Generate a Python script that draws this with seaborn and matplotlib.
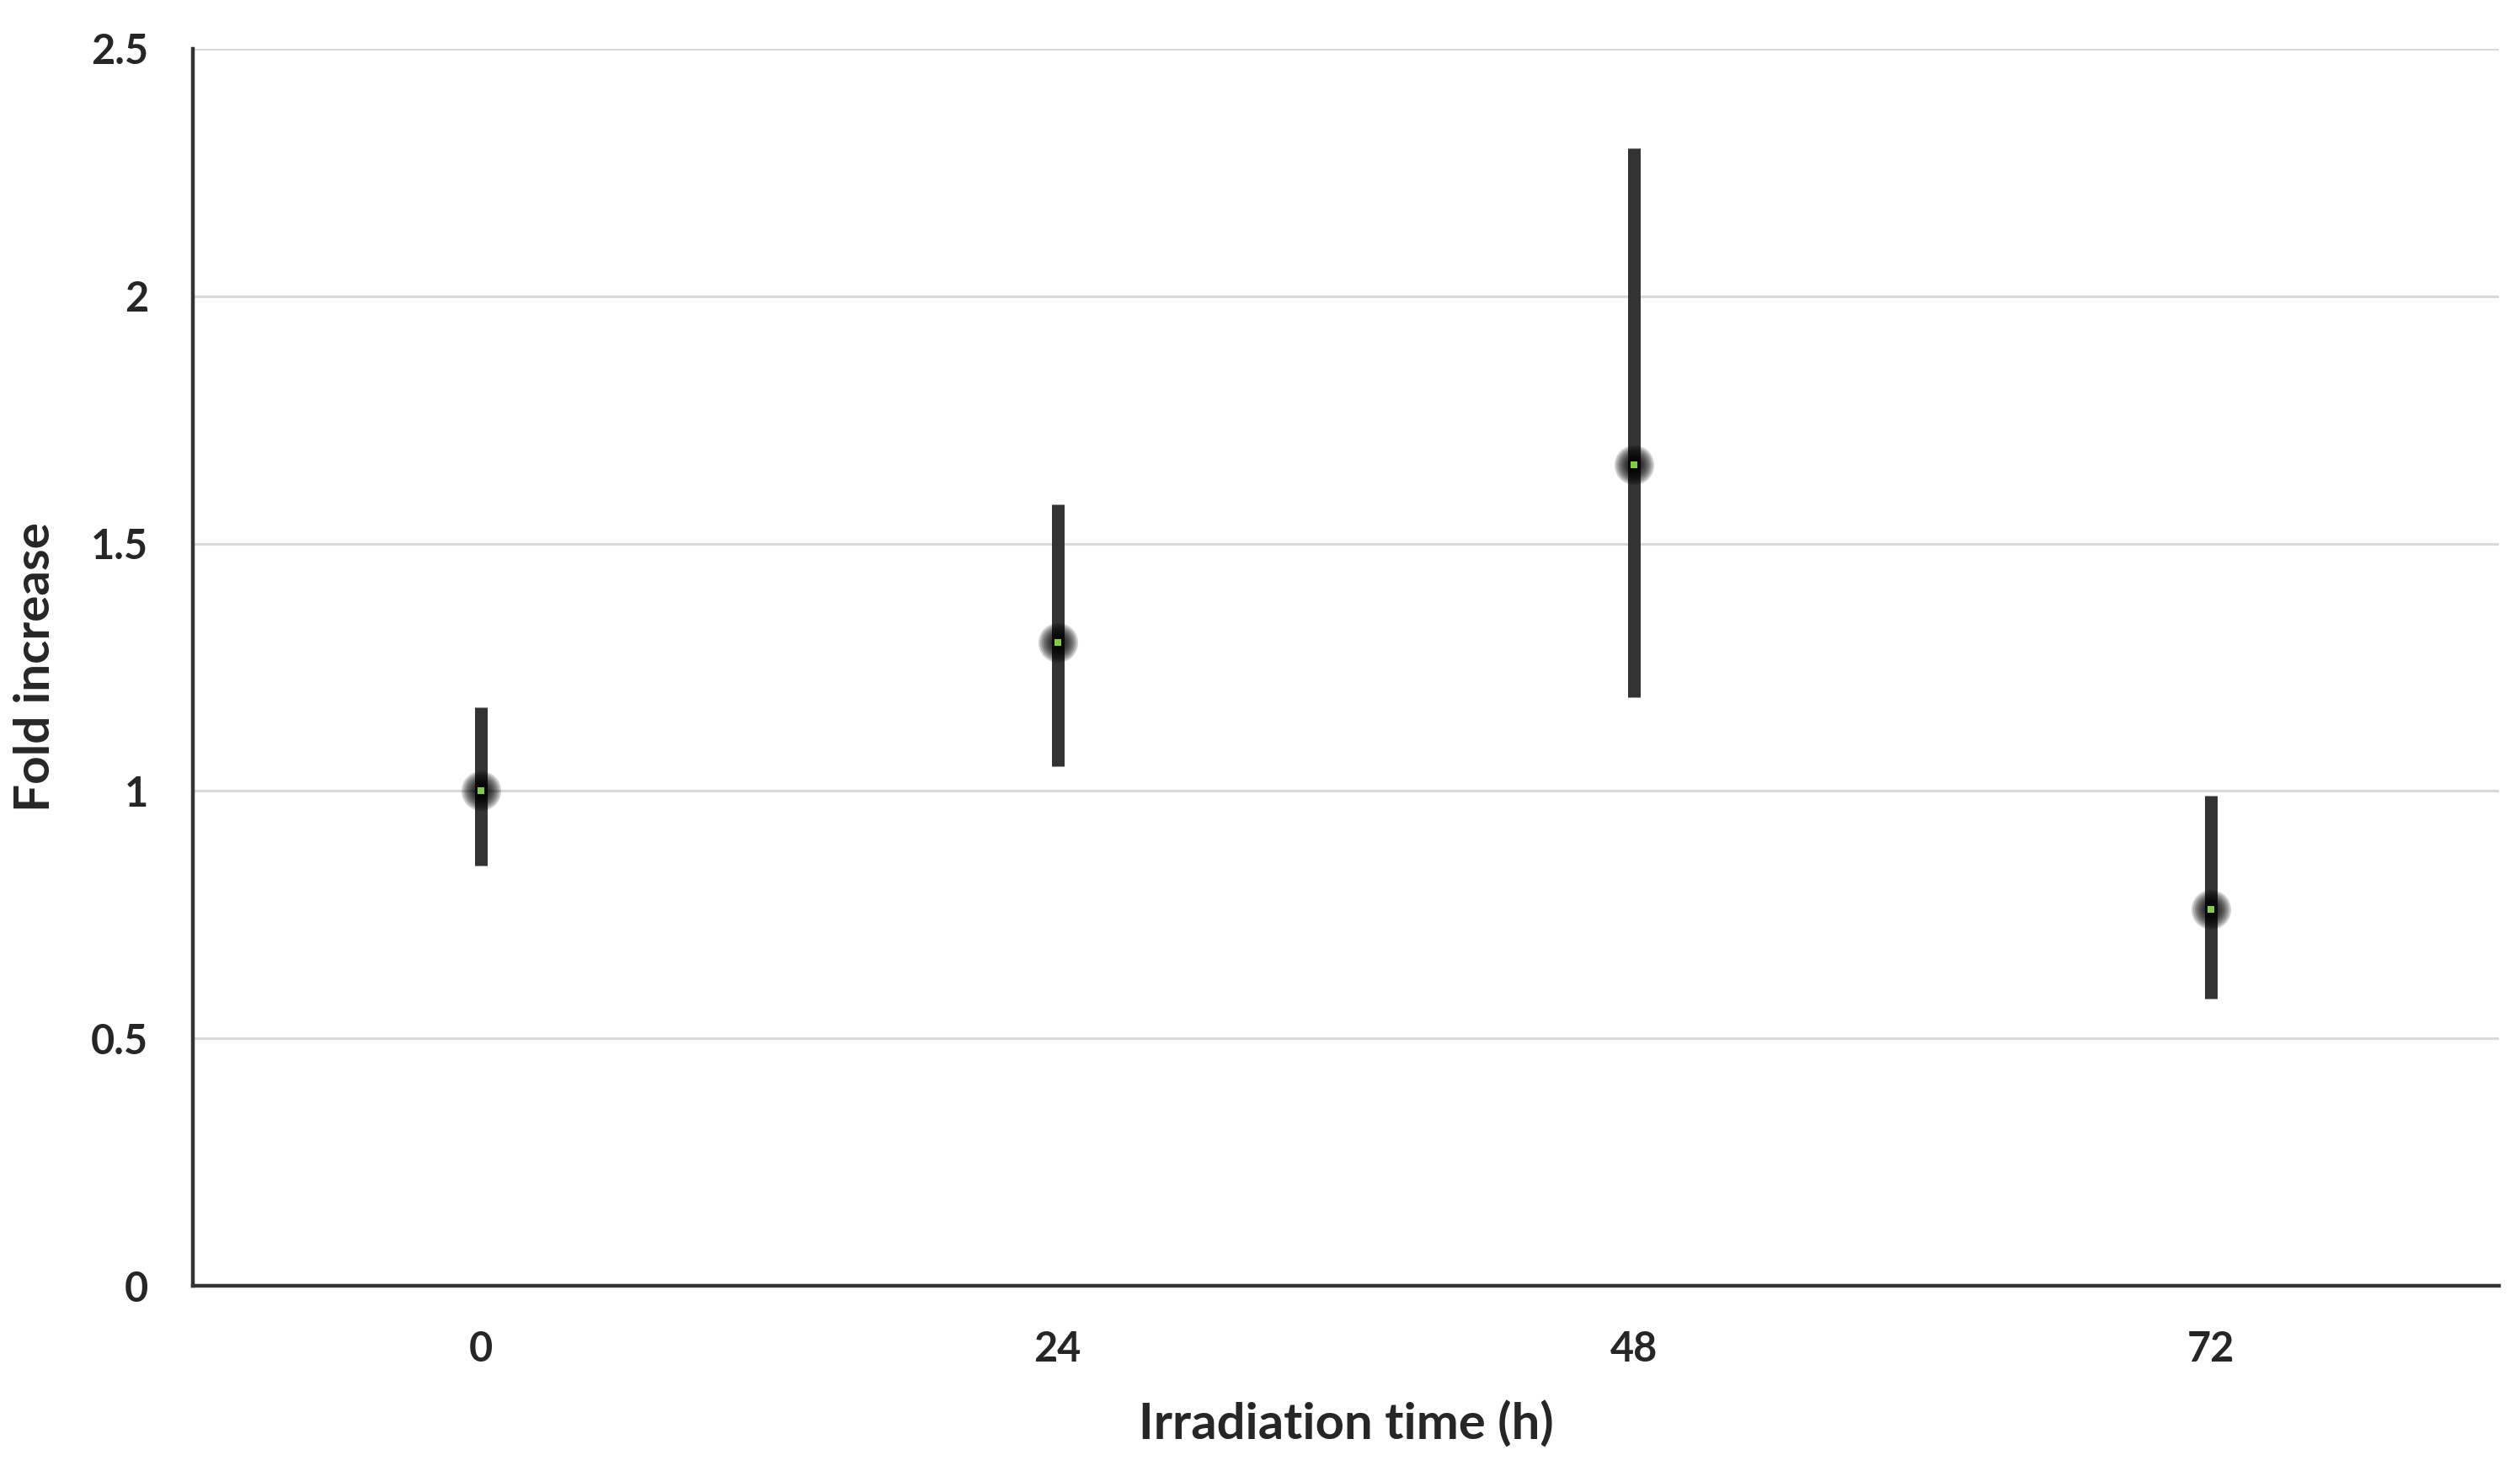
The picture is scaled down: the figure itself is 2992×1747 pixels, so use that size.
import numpy as np
import pandas as pd
import matplotlib.pyplot as plt
import seaborn as sns

# values
times = ["0", "24", "48", "72"]
fold_mean = [1.00, 1.30, 1.66, 0.76]
fold_low = [0.85, 1.05, 1.19, 0.58]
fold_high = [1.17, 1.58, 2.30, 0.99]

y_ticks = [0, 0.5, 1, 1.5, 2, 2.5]
y_tick_labels = ["0", "0.5", "1", "1.5", "2", "2.5"]

# long form: low / mean / high per group -> median + full range gives the bar
df = pd.DataFrame({
    "time": np.repeat(times, 3),
    "fold": np.ravel(np.column_stack([fold_low, fold_mean, fold_high])),
})
df_pts = pd.DataFrame({"time": times, "fold": fold_mean})

sns.set_style("white")
plt.rcParams["font.family"] = ["Lato", "DejaVu Sans"]

fig = plt.figure(figsize=(14.96, 8.735), dpi=200)
ax = fig.add_axes([229 / 2992, 1 - 1527 / 1747, (2967 - 229) / 2992, (1527 - 58) / 1747])

ax.yaxis.grid(True, color="#d9d9d9", linewidth=1.1, zorder=0)
ax.set_axisbelow(True)

sns.pointplot(data=df, x="time", y="fold", order=times,
              estimator="median", errorbar=("pi", 100),
              linestyle="none", marker="", color="#333333",
              err_kws={"linewidth": 5.4, "solid_capstyle": "butt", "zorder": 3},
              ax=ax)

# soft dark halo around each point
for d in np.linspace(17, 5, 10):
    sns.scatterplot(data=df_pts, x="time", y="fold", s=d ** 2, color="black",
                    alpha=0.17, linewidth=0, ax=ax, zorder=4, legend=False)
sns.scatterplot(data=df_pts, x="time", y="fold", s=10, marker="s",
                color="#7ed03a", linewidth=0, ax=ax, zorder=5, legend=False)

ax.set_xlim(-0.5, 3.5)
ax.set_ylim(0, 2.5)
ax.set_yticks(y_ticks)
ax.set_yticklabels(y_tick_labels)

for s in ["top", "right"]:
    ax.spines[s].set_visible(False)
for s in ["left", "bottom"]:
    ax.spines[s].set_color("#333333")
    ax.spines[s].set_linewidth(1.6)

ax.tick_params(axis="both", length=0, labelsize=17.5)
ax.tick_params(axis="y", pad=19)
ax.tick_params(axis="x", pad=19)
for lab in ax.get_xticklabels() + ax.get_yticklabels():
    lab.set_fontweight("bold")

ax.set_xlabel("Irradiation time (h)", fontsize=21.5, fontweight="bold", labelpad=14)
ax.set_ylabel("Fold increase", fontsize=21, fontweight="bold", labelpad=14)

fig.savefig("out.png", dpi=200, facecolor="white")
